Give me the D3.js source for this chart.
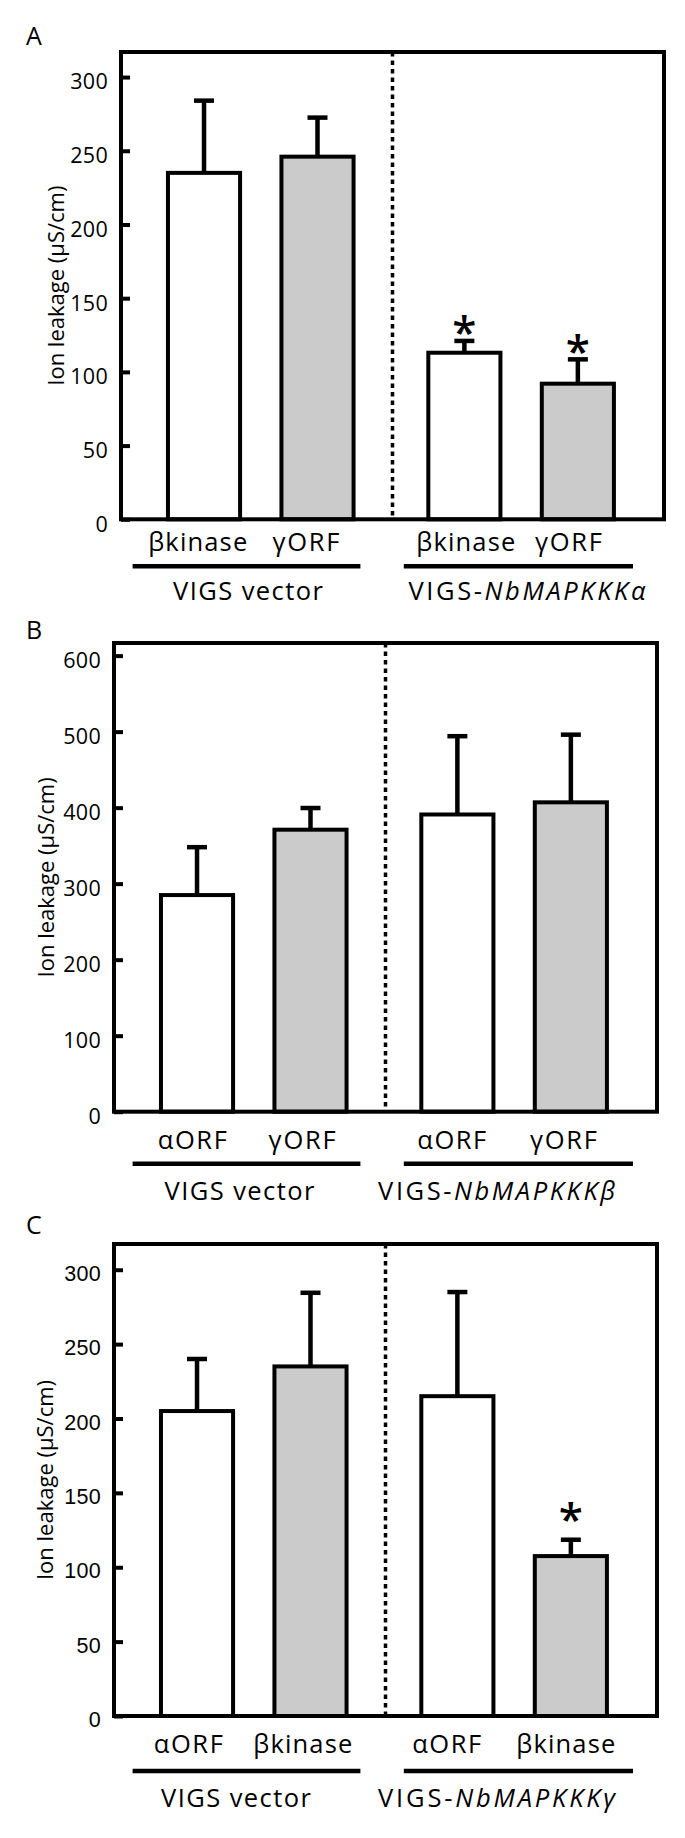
<!DOCTYPE html>
<html><head><meta charset="utf-8">
<script src="https://cdn.jsdelivr.net/npm/d3@7"></script>
<style>body{margin:0;background:#fff}svg{display:block}</style>
</head><body>
<script>
// ---------------- DATA ----------------
const categoriesA = ["βkinase", "γORF", "βkinase", "γORF"];
const valuesA     = [235, 246, 113, 92];
const errorsA     = [49, 26.5, 8, 16.5];
const sigA        = [false, false, true, true];
const ticksA      = [0, 50, 100, 150, 200, 250, 300];
const groupsA     = ["VIGS vector", "VIGS-"];
const genesA      = ["", "NbMAPKKKα"];

const categoriesB = ["αORF", "γORF", "αORF", "γORF"];
const valuesB     = [285, 371, 391, 407];
const errorsB     = [63, 28.5, 103, 89];
const sigB        = [false, false, false, false];
const ticksB      = [0, 100, 200, 300, 400, 500, 600];
const groupsB     = ["VIGS vector", "VIGS-"];
const genesB      = ["", "NbMAPKKKβ"];

const categoriesC = ["αORF", "βkinase", "αORF", "βkinase"];
const valuesC     = [205, 235, 215, 107.5];
const errorsC     = [35, 49.5, 70, 11];
const sigC        = [false, false, false, true];
const ticksC      = [0, 50, 100, 150, 200, 250, 300];
const groupsC     = ["VIGS vector", "VIGS-"];
const genesC      = ["", "NbMAPKKKγ"];

const fills = ["#ffffff", "#cbcbcb"];
const yTitle = "Ion leakage (µS/cm)";

// ---------------- LAYOUT ----------------
const panels = [
  {letter:"A", cats:categoriesA, vals:valuesA, errs:errorsA, sig:sigA, ticks:ticksA, groups:groupsA, genes:genesA,
   xL:121, xR:664, yTop:52, y0:519.3, yMax:317, letterY:45, titleX:64,
   tickFont:"'Open Sans', sans-serif", tickDy:"0.55em",
   labelShift:[-6.3,-11.5,1.4,-9.4], labelDy:32, underDy:47, groupDy:81, groupX:[248,527], astOff:16.5},
  {letter:"B", cats:categoriesB, vals:valuesB, errs:errorsB, sig:sigB, ticks:ticksB, groups:groupsB, genes:genesB,
   xL:114, xR:657, yTop:643, y0:1111.7, yMax:616.6, letterY:639, titleX:54,
   tickFont:"'Open Sans', sans-serif", tickDy:"0.55em",
   labelShift:[-4.7,-8.4,-5.6,-7.4], labelDy:37, underDy:52, groupDy:88, groupX:[239.5,496.6], astOff:16.5},
  {letter:"C", cats:categoriesC, vals:valuesC, errs:errorsC, sig:sigC, ticks:ticksC, groups:groupsC, genes:genesC,
   xL:114, xR:657, yTop:1244, y0:1716, yMax:317.3, letterY:1234, titleX:53,
   tickFont:"'Liberation Sans', Arial, sans-serif", tickDy:"0.49em",
   labelShift:[-8.7,-7.7,-10.7,-5.1], labelDy:37, underDy:55, groupDy:91, groupX:[236,496.6], astOff:28}
];
const underlineX = [[132.6,360.4],[403.8,633]];
const labelWidth = {"βkinase":99, "γORF":67, "αORF":69};
const groupWidth = [150, 237];
const FONT = "'Open Sans', sans-serif";

const svg = d3.select("body").append("svg").attr("width",685).attr("height",1838);
svg.append("rect").attr("width",685).attr("height",1838).attr("fill","#fff");

panels.forEach(P => {
  const g = svg.append("g");
  const y = d3.scaleLinear().domain([0,P.yMax]).range([P.y0,P.yTop]);
  const gx = d3.scaleBand().domain([0,1]).range([P.xL,P.xR]).paddingInner(0).paddingOuter(0.0428).align(0.43);
  const sx = d3.scaleBand().domain([0,1]).range([0,gx.bandwidth()]).paddingInner(0.3645).paddingOuter(0.3294);
  const bx = i => gx(Math.floor(i/2)) + sx(i%2);
  const cx = i => bx(i) + sx.bandwidth()/2;
  const rows = P.vals.map((v,i)=>({v, e:P.errs[i], s:P.sig[i], c:P.cats[i], i}));

  // dotted separator
  g.append("line").attr("x1",(P.xL+P.xR)/2).attr("x2",(P.xL+P.xR)/2)
    .attr("y1",P.yTop).attr("y2",P.y0).attr("stroke","#000").attr("stroke-width",3.5)
    .attr("stroke-dasharray","4.5,4");

  // error bars
  const eb = g.selectAll(".eb").data(rows).join("g");
  eb.append("line").attr("x1",d=>cx(d.i)).attr("x2",d=>cx(d.i)).attr("y1",d=>y(d.v)).attr("y2",d=>y(d.v+d.e))
    .attr("stroke","#000").attr("stroke-width",4.5);
  eb.append("line").attr("x1",d=>cx(d.i)-10).attr("x2",d=>cx(d.i)+10).attr("y1",d=>y(d.v+d.e)).attr("y2",d=>y(d.v+d.e))
    .attr("stroke","#000").attr("stroke-width",4.5);

  // bars
  g.selectAll(".bar").data(rows).join("rect")
    .attr("x",d=>bx(d.i)).attr("width",sx.bandwidth())
    .attr("y",d=>y(d.v)).attr("height",d=>y(0)-y(d.v))
    .attr("fill",d=>fills[d.i%2]).attr("stroke","#000").attr("stroke-width",4);

  // asterisks
  const AFS = 44;
  g.selectAll(".ast").data(rows.filter(d=>d.s)).join("text")
    .attr("x",d=>cx(d.i)).attr("y",d=>y(d.v+d.e)-P.astOff+0.54*AFS)
    .attr("text-anchor","middle").attr("font-family",FONT).attr("font-weight",600)
    .attr("font-size",AFS).text("*");

  // axis
  const ax = g.append("g").attr("transform",`translate(${P.xL},0)`)
    .call(d3.axisLeft(y).tickValues(P.ticks).tickSize(-9).tickPadding(13));
  ax.select(".domain").remove();
  ax.selectAll(".tick line").attr("stroke","#000").attr("stroke-width",4);
  ax.selectAll(".tick text").attr("font-family",P.tickFont).attr("font-size",21.5)
    .attr("letter-spacing",0.3).attr("fill","#000").attr("dy",P.tickDy);

  // frame
  g.append("rect").attr("x",P.xL).attr("y",P.yTop).attr("width",P.xR-P.xL).attr("height",P.y0-P.yTop)
    .attr("fill","none").attr("stroke","#000").attr("stroke-width",4);

  // category labels
  g.selectAll(".cat").data(rows).join("text")
    .attr("x",d=>cx(d.i)+P.labelShift[d.i]).attr("y",P.y0+P.labelDy)
    .attr("text-anchor","middle").attr("font-family",FONT).attr("font-size",25.5)
    .attr("textLength",d=>labelWidth[d.c]).attr("lengthAdjust","spacing").text(d=>d.c);

  // group underlines and labels
  underlineX.forEach((u,k)=>{
    g.append("line").attr("x1",u[0]).attr("x2",u[1]).attr("y1",P.y0+P.underDy).attr("y2",P.y0+P.underDy)
      .attr("stroke","#000").attr("stroke-width",4.5);
    const t = g.append("text").attr("x",P.groupX[k]).attr("y",P.y0+P.groupDy)
      .attr("text-anchor","middle").attr("font-family",FONT).attr("font-size",25.5)
      .attr("textLength",groupWidth[k]).attr("lengthAdjust","spacing");
    t.append("tspan").text(P.groups[k]);
    if (P.genes[k]) t.append("tspan").attr("font-style","italic").text(P.genes[k]);
  });

  // y title
  g.append("text").attr("transform",`translate(${P.titleX},${(P.yTop+P.y0)/2}) rotate(-90)`)
    .attr("text-anchor","middle").attr("font-family",FONT).attr("font-size",22).text(yTitle);

  // panel letter
  g.append("text").attr("x",26).attr("y",P.letterY).attr("font-family",FONT).attr("font-size",25).text(P.letter);
});
</script>
</body></html>
